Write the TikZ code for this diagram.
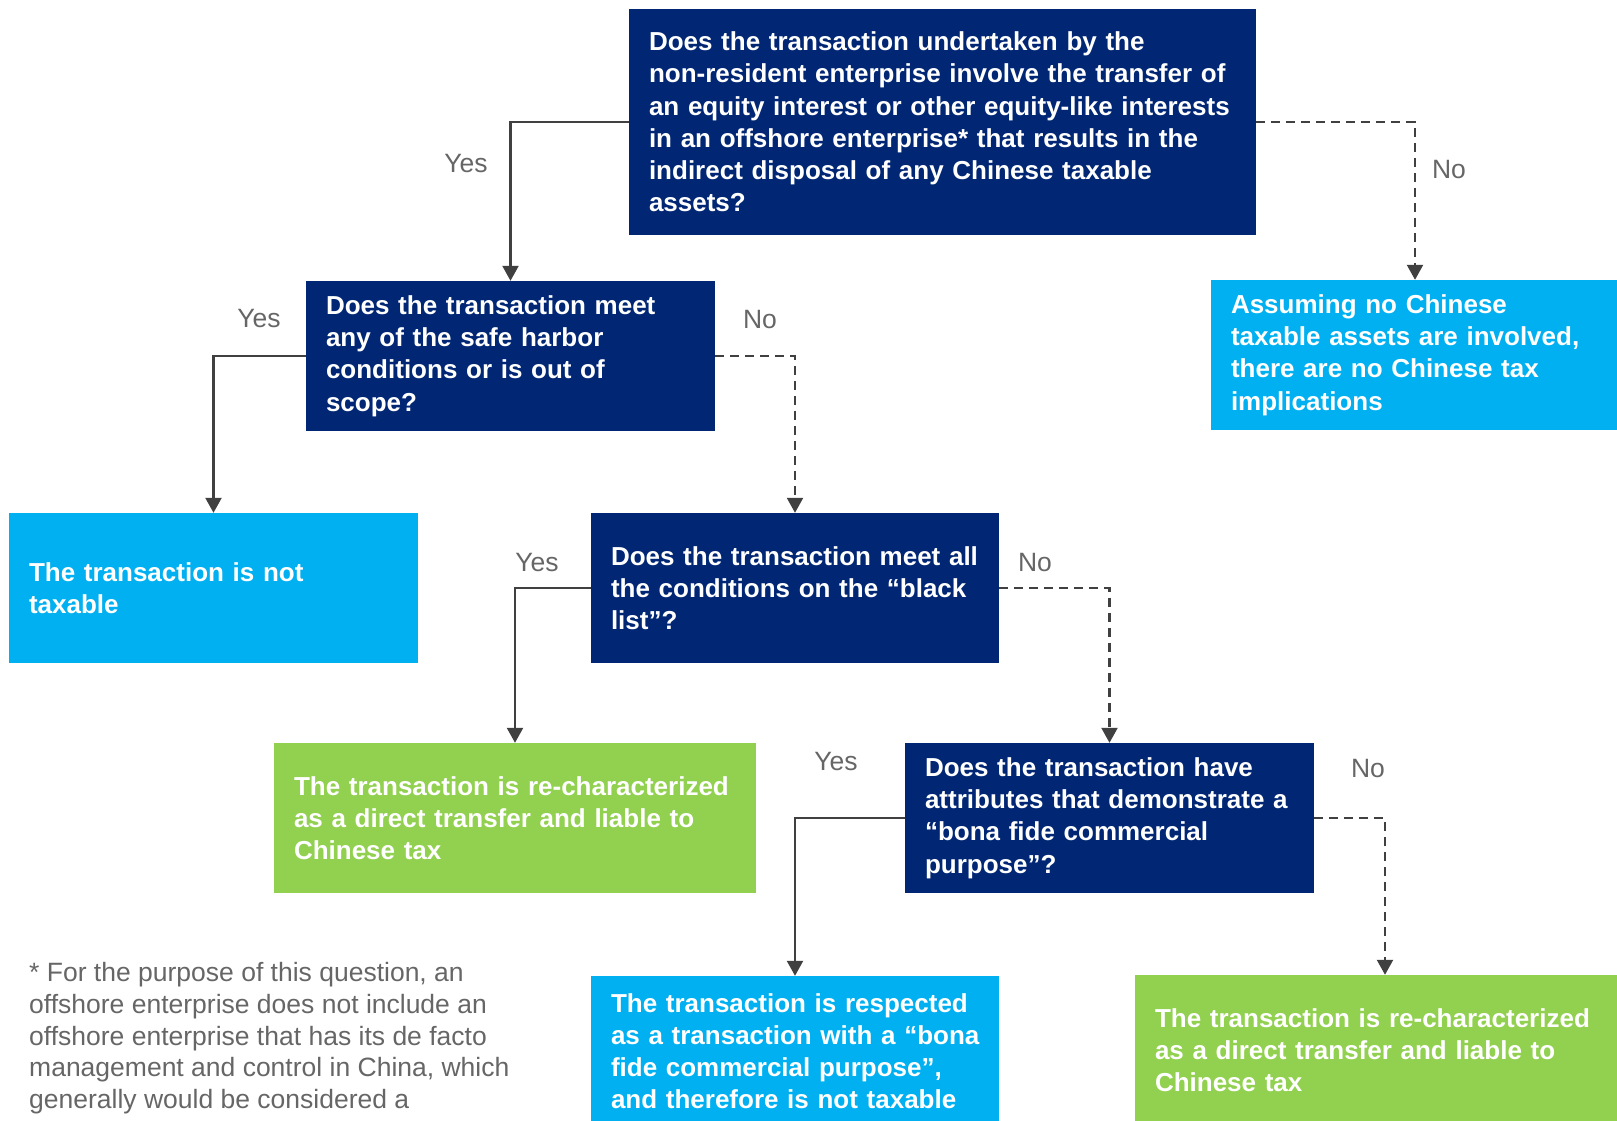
\documentclass[tikz,border=0pt]{standalone}
\usepackage{fontspec}
\setmainfont{Liberation Sans}
\usetikzlibrary{arrows.meta}
\definecolor{navy}{RGB}{0,38,116}
\definecolor{skyblue}{RGB}{0,176,240}
\definecolor{leaf}{RGB}{146,208,80}
\definecolor{labelgray}{RGB}{102,102,102}
\definecolor{linegray}{RGB}{64,64,64}
\newcommand\boxfont{\fontsize{26}{32.2}\selectfont\bfseries\hyphenpenalty=10000\relax}

\begin{document}
\begin{tikzpicture}[x=1pt,y=-1pt,
  box/.style={rectangle,inner xsep=20pt,inner ysep=0pt,text=white,align=left,
    font=\boxfont,minimum height=150pt},
  qbox/.style={box,fill=navy},
  endbox/.style={box,fill=skyblue},
  taxbox/.style={box,fill=leaf},
  yesline/.style={draw=linegray,line width=2.3pt,-{Triangle[width=16pt,length=15pt]}},
  noline/.style={yesline,dash pattern=on 9pt off 6pt},
  lbl/.style={text=labelgray,font=\fontsize{26.5}{31.8}\selectfont}]
  \useasboundingbox (0,0) rectangle (1617,1121);
  % questions
  \node[qbox,text width=587pt,minimum height=226pt] (question) at (942.5,122)
    {Does the transaction undertaken by the\\
     non-resident enterprise involve the transfer of\\
     an equity interest or other equity-like interests\\
     in an offshore enterprise* that results in the\\
     indirect disposal of any Chinese taxable\\
     assets?};
  \node[qbox,text width=369pt] (harbor) at (510.5,356)
    {Does the transaction meet\\ any of the safe harbor\\ conditions or is out of\\ scope?};
  \node[qbox,text width=368pt] (blacklist) at (795,588)
    {Does the transaction meet all\\ the conditions on the “black\\ list”?};
  \node[qbox,text width=369pt] (bonafide) at (1109.5,818)
    {Does the transaction have\\ attributes that demonstrate a\\ “bona fide commercial\\ purpose”?};
  % outcomes
  \node[endbox,text width=368pt] (assets) at (1415,355)
    {Assuming no Chinese\\ taxable assets are involved,\\ there are no Chinese tax\\ implications};
  \node[endbox,text width=369pt] (nottax) at (213.5,588)
    {The transaction is not\\ taxable};
  \node[taxbox,text width=442pt] (rechar) at (515,818)
    {The transaction is re-characterized\\ as a direct transfer and liable to\\ Chinese tax};
  \node[endbox,text width=368pt] (respected) at (795,1051)
    {The transaction is respected\\ \mbox{as a transaction with a “bona}\\ fide commercial purpose”,\\ and therefore is not taxable};
  \node[taxbox,text width=460pt] (recharb) at (1385,1050)
    {The transaction is re-characterized\\ as a direct transfer and liable to\\ Chinese tax};
  % connectors
  \draw[yesline] (question.west) -| (harbor.north);
  \draw[noline] (question.east) -| (assets.north);
  \draw[yesline] (harbor.west) -| (nottax.north);
  \draw[noline] (harbor.east) -| (blacklist.north);
  \draw[yesline] (blacklist.west) -| (rechar.north);
  \draw[noline] (blacklist.east) -| (bonafide.north);
  \draw[yesline] (bonafide.west) -| (respected.north);
  \draw[noline] (bonafide.east) -| (recharb.north);
  % labels
  \node[lbl] (yes1) at (466,164) {Yes};
  \node[lbl] (no1) at (1449,170) {No};
  \node[lbl] (yes2) at (259,319) {Yes};
  \node[lbl] (no2) at (760,320) {No};
  \node[lbl] (yes3) at (537,563) {Yes};
  \node[lbl] (no3) at (1035,563) {No};
  \node[lbl] (yes4) at (836,762) {Yes};
  \node[lbl] (no4) at (1368,769) {No};
  % footnote
  \node[lbl,anchor=north west,align=left,inner sep=0pt] (note) at (29,962)
    {* For the purpose of this question, an\\
     offshore enterprise does not include an\\
     offshore enterprise that has its de facto\\
     management and control in China, which\\
     generally would be considered a};
\end{tikzpicture}
\end{document}
